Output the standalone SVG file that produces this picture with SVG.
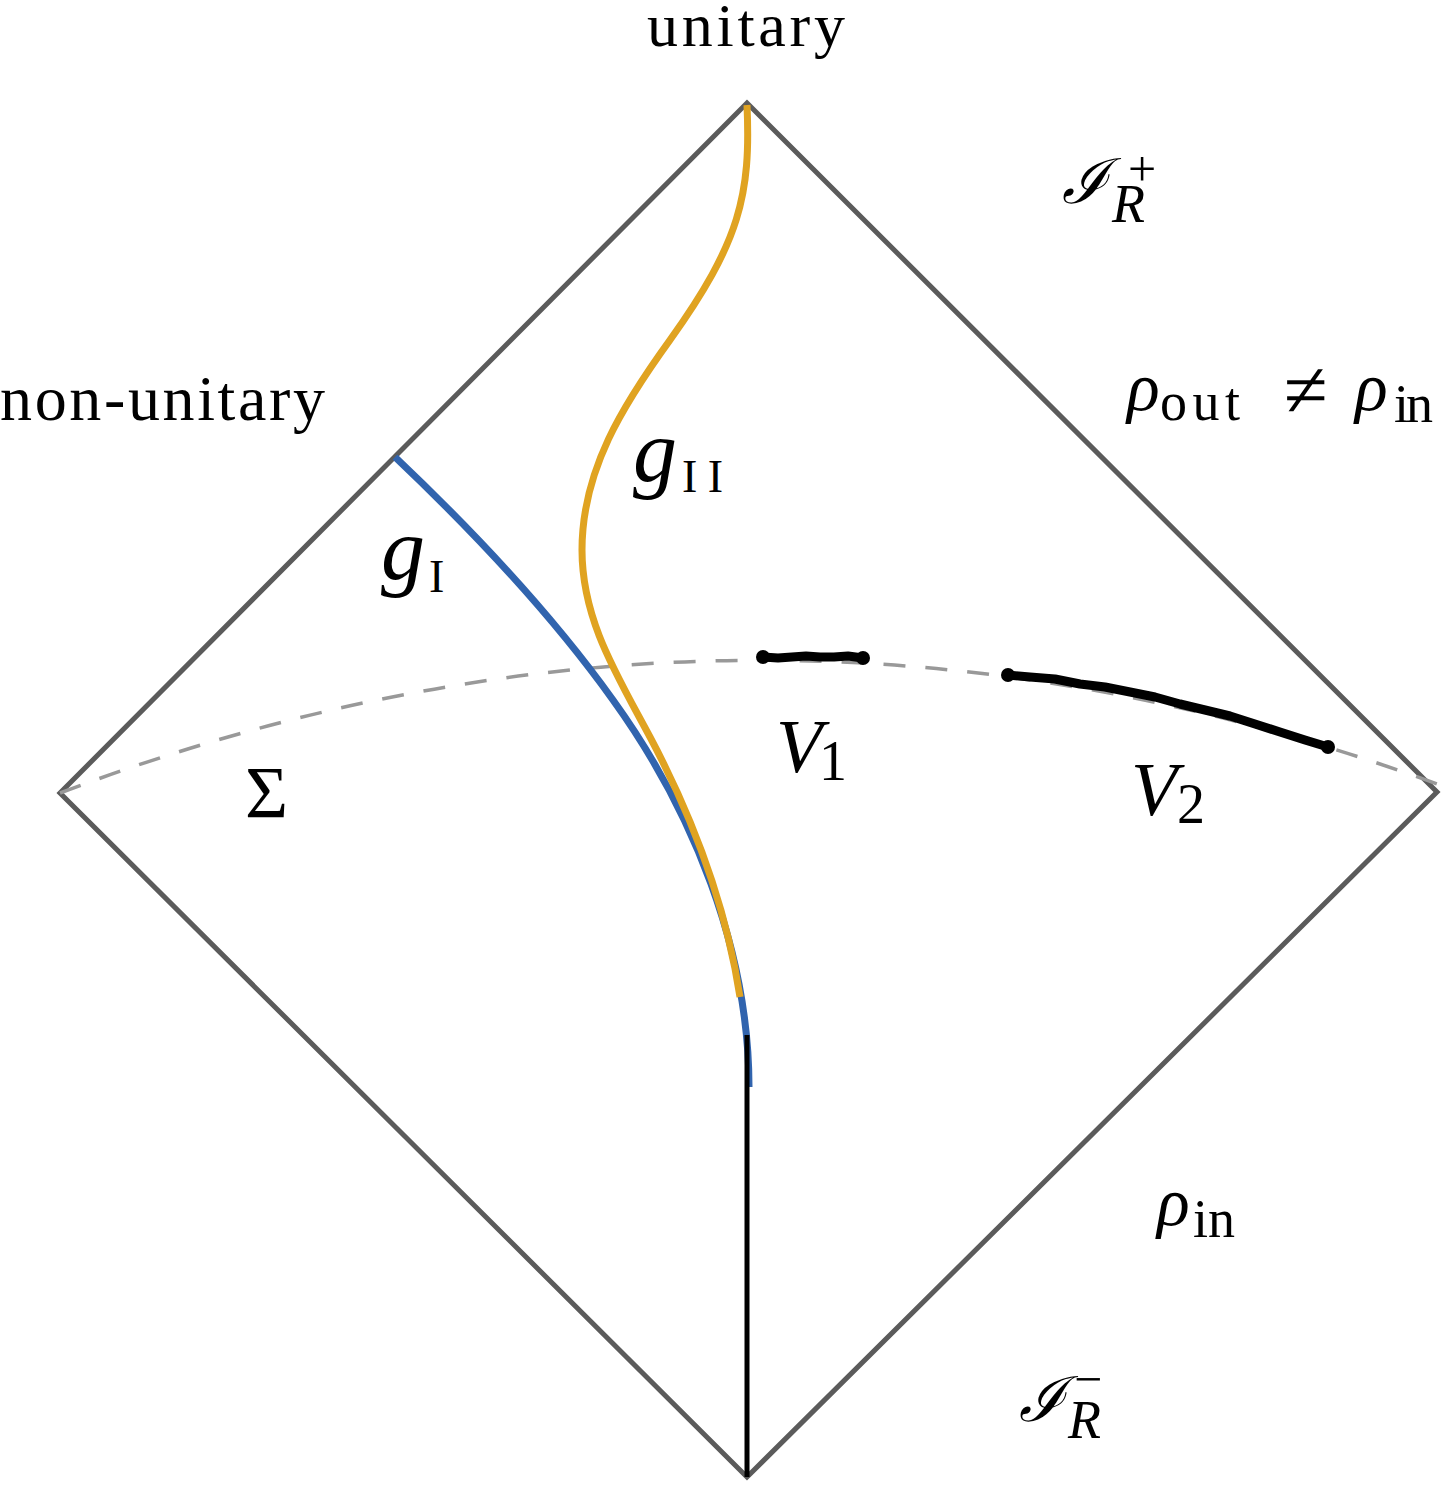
<svg xmlns="http://www.w3.org/2000/svg" width="1452" height="1488" viewBox="0 0 1452 1488">
<style>
.frame{fill:none;stroke:#5b5b5b;stroke-width:5;stroke-linejoin:miter}
.sigma{fill:none;stroke:#999;stroke-width:3.5;stroke-dasharray:22 20}
.blue{fill:none;stroke:#3164ae;stroke-width:7}
.gold{fill:none;stroke:#e0a321;stroke-width:7}
.wl{fill:none;stroke:#000;stroke-width:5}
.vol{fill:none;stroke:#000;stroke-width:9;stroke-linecap:round;stroke-linejoin:round}
.dot{fill:#000}
.it{font-style:italic}
</style>
<rect width="1452" height="1488" fill="#fff"/>
<g id="diagram">
<polygon id="penrose" class="frame" points="747,103 1437,792 747,1477 60,793"/>
</g>
<g id="connectors">
<path id="slice" class="sigma" d="M60,793 Q754,530 1448,788"/>
<path id="gI" class="blue" d="M395,457 C473,531 550,612 613,700 C693,811 749,950 749,1087"/>
<path id="gII" class="gold" d="M747,105 C751,195 740,242 670,340 C623,405 582,470 582,550 C582,620 617,675 650,737 C693,818 726,906 740,997"/>
<line id="worldline" class="wl" x1="747" y1="1035" x2="747" y2="1477"/>
</g>
<g id="V1">
<path class="vol" d="M763,657 L778,658 L792,657 L806,656 L820,657 L834,657 L848,656 L863,658"/>
<circle class="dot" cx="763" cy="657" r="7"/>
<circle class="dot" cx="863" cy="658" r="7"/>
</g>
<g id="V2">
<path class="vol" d="M1008,675 L1030,677 L1055,679 L1080,684 L1105,687 L1130,692 L1155,697 L1180,704 L1205,710 L1230,716 L1255,724 L1280,732 L1305,740 L1328,747"/>
<circle class="dot" cx="1008" cy="675" r="7"/>
<circle class="dot" cx="1328" cy="747" r="7"/>
</g>
<g id="labels" font-family="Liberation Serif, DejaVu Serif, serif" fill="#000">
<text x="647" y="46" font-size="62" textLength="198">unitary</text>
<text x="0" y="420" font-size="64" textLength="325">non-unitary</text>
<g id="scri-plus">
<text class="it" x="1062" y="203" font-size="62">ℐ</text>
<text class="it" x="1112" y="222" font-size="54">R</text>
<text x="1128" y="186" font-size="50">+</text>
</g>
<g id="scri-minus">
<text class="it" x="1019" y="1421" font-size="62">ℐ</text>
<text class="it" x="1068" y="1438" font-size="54">R</text>
<text x="1074" y="1396" font-size="50">−</text>
</g>
<g id="rho-out">
<text class="it" x="1127" y="410" font-size="68">ρ</text>
<text x="1160" y="420" font-size="54" textLength="80">out</text>
<text x="1284" y="417" font-size="80">≠</text>
<text class="it" x="1355" y="410" font-size="68">ρ</text>
<text x="1394" y="422" font-size="54" textLength="39">in</text>
</g>
<g id="rho-in">
<text class="it" x="1157" y="1225" font-size="68">ρ</text>
<text x="1193" y="1237" font-size="54" textLength="42">in</text>
</g>
<g id="g2">
<text class="it" x="633" y="481" font-size="88">g</text>
<text x="682" y="492" font-size="46" textLength="41">II</text>
</g>
<g id="g1">
<text class="it" x="381" y="579" font-size="88">g</text>
<text x="429" y="592" font-size="46">I</text>
</g>
<text id="Sigma" x="245" y="818" font-size="74">Σ</text>
<g id="v1lab">
<text class="it" x="776" y="772" font-size="76">V</text>
<text x="819" y="780" font-size="56">1</text>
</g>
<g id="v2lab">
<text class="it" x="1131" y="815" font-size="76">V</text>
<text x="1177" y="823" font-size="56">2</text>
</g>
</g>
</svg>
